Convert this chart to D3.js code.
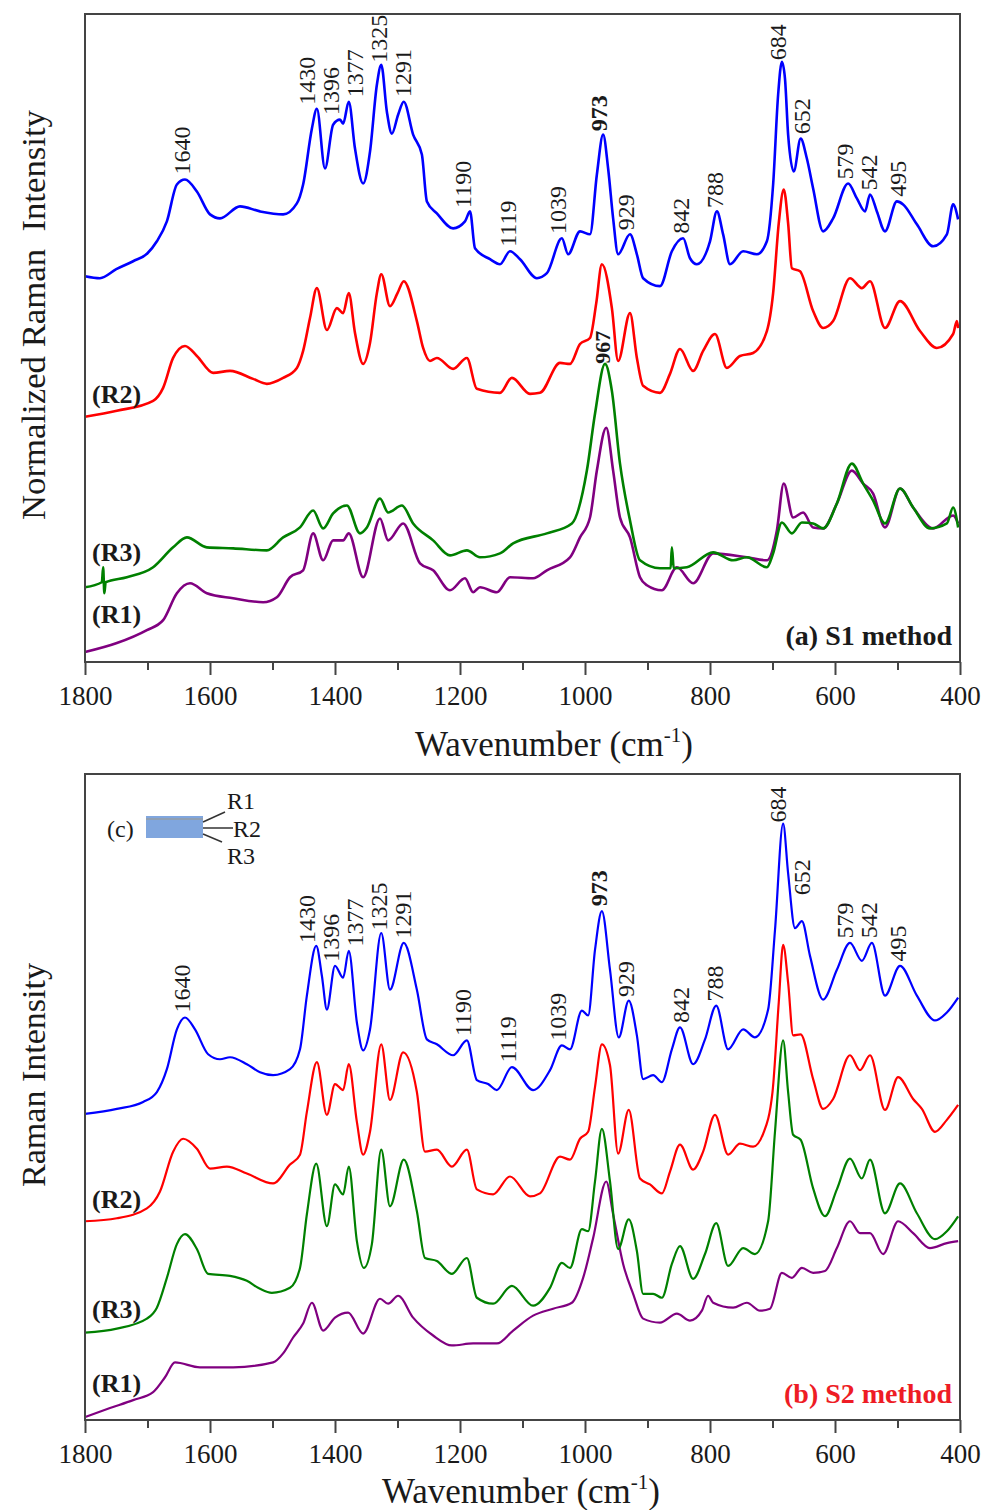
<!DOCTYPE html>
<html>
<head>
<meta charset="utf-8">
<script src="https://cdn.jsdelivr.net/npm/d3@7"></script>
<style>
  body { margin: 0; background: #fff; }
  text { font-family: "Liberation Serif", "Times New Roman", serif; fill: #1a1a1a; }
</style>
</head>
<body>
<svg id="chart"></svg>
<script>
// ---- data (wavenumber cm-1, intensity a.u.) ----
var majorTicks = [1800, 1600, 1400, 1200, 1000, 800, 600, 400];
var minorTicks = [1700, 1500, 1300, 1100, 900, 700, 500];
var peaks = [1640, 1430, 1396, 1377, 1325, 1291, 1190, 1119, 1039, 973, 929, 842, 788, 684, 652, 579, 542, 495];
var boldPeaks = [973];

// (a) S1 method
var s1Blue = [[1800,38.7],[1776,38.5],[1750,39.4],[1723,40.2],[1700,41.0],[1685,42.2],[1669,44.2],[1653,47.9],[1640,48.4],[1621,47.2],[1600,44.9],[1584,44.5],[1552,45.7],[1520,45.2],[1483,44.9],[1461,46.0],[1451,47.9],[1437,53.5],[1429,55.5],[1416,49.5],[1403,53.9],[1392,54.4],[1387,54.0],[1378,56.2],[1368,51.5],[1355,48.0],[1344,51.2],[1333,57.9],[1326,59.9],[1317,55.2],[1309,53.0],[1299,54.9],[1290,56.2],[1275,52.9],[1261,50.9],[1253,46.2],[1237,45.0],[1211,43.5],[1192,44.2],[1184,45.2],[1176,41.5],[1152,40.4],[1136,39.9],[1120,41.2],[1104,40.4],[1077,38.5],[1061,39.0],[1037,42.5],[1027,40.9],[1008,43.2],[992,42.9],[981,48.9],[971,52.9],[963,49.5],[955,44.5],[947,40.9],[928,42.9],[917,40.9],[907,38.5],[880,37.7],[861,41.2],[843,42.5],[832,40.5],[821,39.9],[800,42.2],[789,45.2],[779,42.9],[768,39.9],[747,41.2],[725,40.9],[709,42.2],[699,47.9],[691,56.9],[685,60.2],[680,58.5],[675,52.9],[666,49.2],[655,52.5],[645,50.5],[635,47.5],[619,43.2],[603,44.5],[579,48.0],[565,46.5],[552,45.2],[544,46.9],[533,45.2],[520,43.2],[501,46.2],[491,45.9],[469,43.9],[443,41.7],[421,42.9],[411,45.9],[403,44.4]];
var s1Red = [[1800,24.6],[1749,25.2],[1691,26.2],[1675,27.5],[1659,30.5],[1640,31.7],[1621,30.7],[1595,29.0],[1568,29.2],[1531,28.4],[1509,27.9],[1483,28.5],[1461,29.5],[1451,31.2],[1440,34.5],[1429,37.5],[1413,33.3],[1397,35.5],[1387,35.0],[1378,37.0],[1368,33.0],[1355,29.9],[1344,32.0],[1333,37.0],[1326,38.9],[1312,35.7],[1300,37.0],[1290,38.2],[1269,34.2],[1259,31.5],[1248,30.2],[1237,30.5],[1211,29.4],[1189,30.5],[1173,27.4],[1136,27.0],[1117,28.5],[1088,26.9],[1072,27.0],[1040,30.0],[1024,29.9],[1008,31.9],[992,32.5],[982,36.0],[973,39.9],[957,35.5],[947,30.2],[928,35.0],[917,30.5],[907,27.7],[880,27.0],[864,28.9],[848,31.4],[827,29.2],[811,31.2],[792,32.9],[773,29.5],[752,30.7],[731,31.0],[709,33.2],[699,37.0],[690,44.0],[682,47.4],[675,44.0],[669,39.5],[656,39.2],[635,35.2],[619,33.5],[603,34.2],[576,38.5],[557,37.5],[544,38.2],[520,33.5],[496,36.2],[464,33.2],[437,31.5],[411,32.9],[405,34.2],[403,33.5]];
var s1Green = [[1800,7.5],[1773,8.0],[1771,9.5],[1769,6.9],[1767,8.0],[1733,8.5],[1691,9.5],[1659,11.5],[1637,12.5],[1605,11.5],[1563,11.4],[1509,11.2],[1483,12.5],[1456,13.5],[1435,15.2],[1419,13.4],[1403,14.9],[1381,15.7],[1360,12.9],[1349,13.5],[1328,16.4],[1315,15.0],[1293,15.7],[1275,13.9],[1243,12.2],[1216,10.7],[1189,11.2],[1168,10.5],[1136,10.9],[1115,11.9],[1061,12.9],[1021,13.9],[997,19.2],[984,24.9],[968,29.9],[957,27.2],[944,19.9],[928,14.2],[912,10.2],[880,9.4],[863,9.4],[861,11.5],[858,9.4],[837,9.5],[795,11.0],[763,10.2],[741,10.5],[709,9.5],[699,10.9],[685,14.0],[669,12.9],[653,14.0],[635,13.9],[619,13.4],[597,15.9],[573,19.9],[555,17.9],[539,16.2],[520,13.9],[496,17.4],[475,15.5],[448,13.4],[421,13.9],[411,15.5],[403,13.5]];
var s1Purple = [[1800,1.0],[1749,1.9],[1701,3.2],[1675,4.2],[1653,6.9],[1632,7.9],[1605,6.9],[1563,6.4],[1515,6.0],[1493,6.5],[1472,8.5],[1451,9.2],[1435,12.9],[1419,10.2],[1403,12.2],[1387,12.2],[1378,12.9],[1355,8.5],[1328,14.4],[1315,12.2],[1291,13.9],[1264,9.9],[1243,9.2],[1216,7.2],[1192,8.4],[1179,7.0],[1168,7.5],[1141,7.0],[1120,8.5],[1083,8.4],[1061,9.2],[1024,10.5],[1008,12.5],[992,14.5],[981,19.2],[966,23.5],[955,19.2],[944,14.5],[928,12.5],[912,8.5],[901,7.7],[877,7.2],[853,9.5],[827,7.9],[795,10.9],[741,10.5],[709,10.2],[693,13.2],[682,17.9],[667,14.5],[651,15.0],[635,13.5],[619,13.4],[597,15.9],[573,19.2],[555,17.9],[539,16.9],[520,13.5],[496,17.4],[475,15.5],[443,13.4],[411,14.7],[403,13.9]];

// (b) S2 method
var s2Blue = [[1800,30.8],[1749,31.3],[1707,32.0],[1685,33.0],[1669,35.3],[1653,39.3],[1640,40.5],[1624,39.3],[1603,36.8],[1584,36.3],[1568,36.5],[1541,35.8],[1520,35.0],[1499,34.7],[1472,35.3],[1456,37.3],[1445,42.7],[1430,47.7],[1421,44.7],[1413,41.3],[1400,45.7],[1387,44.5],[1378,47.2],[1365,40.0],[1355,37.2],[1344,39.3],[1326,49.0],[1312,43.3],[1290,48.0],[1269,43.3],[1253,38.3],[1237,37.8],[1211,36.7],[1189,38.2],[1173,34.2],[1155,33.8],[1141,33.2],[1117,35.5],[1083,33.2],[1056,35.2],[1037,37.7],[1024,37.3],[1005,41.2],[995,40.7],[984,47.3],[973,51.2],[960,45.3],[946,38.5],[930,42.2],[917,38.7],[907,34.3],[891,34.7],[877,34.0],[861,37.3],[848,39.5],[827,35.8],[808,38.3],[790,41.7],[771,37.3],[747,39.3],[728,38.5],[707,41.3],[696,49.3],[683,60.0],[675,55.0],[664,49.5],[653,50.2],[640,46.7],[619,42.3],[597,45.3],[576,48.0],[557,46.2],[541,48.0],[520,42.7],[496,45.7],[469,42.7],[440,40.2],[421,41.0],[403,42.5]];
var s2Red = [[1800,20.0],[1749,20.3],[1701,21.3],[1680,23.0],[1659,27.0],[1643,28.3],[1621,27.3],[1600,25.3],[1573,25.5],[1541,24.8],[1499,23.8],[1472,25.7],[1456,26.7],[1445,31.0],[1429,36.0],[1413,30.7],[1400,33.8],[1387,33.2],[1378,35.8],[1365,30.0],[1355,26.7],[1344,29.0],[1326,37.8],[1312,32.2],[1291,37.0],[1269,33.0],[1256,27.0],[1237,27.2],[1213,25.5],[1189,27.2],[1173,23.2],[1147,22.7],[1120,24.5],[1088,22.5],[1072,22.8],[1040,26.5],[1024,26.2],[1008,28.3],[995,29.0],[984,33.5],[973,37.8],[960,35.7],[947,26.8],[930,31.2],[912,24.3],[896,23.7],[877,22.8],[864,25.0],[848,27.7],[827,25.2],[811,27.0],[792,30.7],[771,26.7],[752,27.8],[731,27.5],[715,28.8],[700,33.0],[690,42.0],[683,47.8],[675,44.0],[667,38.7],[655,38.8],[635,34.3],[619,31.3],[603,32.3],[576,36.7],[560,35.2],[544,36.7],[520,31.2],[499,34.5],[475,32.3],[461,31.3],[440,29.0],[421,30.2],[403,31.7]];
var s2Green = [[1800,8.8],[1749,9.2],[1701,10.2],[1685,11.3],[1669,14.3],[1653,17.7],[1640,18.7],[1621,17.2],[1603,14.7],[1568,14.5],[1541,14.0],[1520,13.2],[1501,12.8],[1472,13.3],[1456,15.3],[1445,20.7],[1430,25.8],[1413,19.5],[1400,23.7],[1387,22.7],[1378,25.5],[1365,18.0],[1354,15.3],[1341,17.7],[1326,27.2],[1312,21.5],[1290,26.2],[1269,21.0],[1256,16.3],[1237,16.0],[1213,14.7],[1189,16.3],[1173,12.3],[1147,11.7],[1117,13.5],[1083,11.5],[1056,13.3],[1037,15.8],[1024,15.3],[1005,19.2],[995,19.0],[984,24.0],[973,29.3],[960,24.0],[947,17.2],[930,20.2],[917,17.0],[907,12.7],[891,12.7],[877,12.3],[861,15.7],[848,17.5],[827,14.2],[808,16.7],[790,19.8],[771,15.5],[747,17.3],[728,16.7],[707,20.0],[696,29.0],[683,38.2],[675,33.0],[667,28.7],[655,28.2],[635,23.3],[616,20.5],[597,23.2],[576,26.3],[557,24.3],[544,26.2],[520,20.8],[496,23.8],[469,20.8],[440,18.2],[421,19.0],[403,20.5]];
var s2Purple = [[1800,0.3],[1760,1.2],[1723,2.0],[1691,2.8],[1672,4.3],[1656,5.8],[1616,5.3],[1563,5.3],[1499,5.8],[1483,6.7],[1467,8.3],[1451,9.7],[1437,11.8],[1419,9.0],[1400,10.3],[1379,10.8],[1355,8.7],[1328,12.2],[1315,11.7],[1299,12.5],[1275,10.3],[1243,8.5],[1213,7.5],[1179,7.7],[1141,7.7],[1115,9.0],[1083,10.5],[1051,11.2],[1021,11.8],[1003,14.3],[987,18.3],[966,24.0],[955,20.7],[939,15.7],[923,12.7],[907,10.2],[880,9.8],[853,10.7],[832,10.0],[813,11.0],[803,12.5],[795,11.8],[763,11.3],[741,11.8],[720,11.0],[704,11.2],[685,14.8],[669,14.3],[653,15.3],[635,14.8],[616,15.0],[597,17.3],[576,20.0],[560,18.8],[544,18.8],[523,16.7],[499,20.0],[475,18.8],[448,17.3],[421,17.8],[403,18.0]];

var colors = {blue: "#0000ff", red: "#ff0000", green: "#008000", purple: "#800080"};

var width = 983, height = 1510;
var plotLeft = 85, plotRight = 960;

var svg = d3.select("#chart")
    .attr("width", width)
    .attr("height", height);

var x = d3.scaleLinear()
    .domain([1800, 400])
    .range([plotLeft, plotRight]);

// linear lookup on a traced series, used to sit peak labels above the curve
function valueAt(series, w) {
  for (var i = 0; i < series.length - 1; i++) {
    var a = series[i], b = series[i + 1];
    if (w <= a[0] && w >= b[0]) {
      var t = (a[0] - w) / (a[0] - b[0]);
      return a[1] + t * (b[1] - a[1]);
    }
  }
  return series[series.length - 1][1];
}

function spread(pos, gap) {
  pos = pos.slice();
  for (var k = 0; k < 200; k++) {
    for (var i = 1; i < pos.length; i++) {
      var d = pos[i] - pos[i - 1];
      if (d < gap) { var m = (gap - d) / 2; pos[i - 1] -= m; pos[i] += m; }
    }
  }
  return pos;
}

function drawPanel(cfg) {
  var y = d3.scaleLinear()
      .domain([0, 65])
      .range([cfg.bottom, cfg.top]);

  var g = svg.append("g");

  var line = d3.line()
      .curve(d3.curveMonotoneX)
      .x(d => x(d[0]))
      .y(d => y(d[1]));

  // curves
  g.selectAll(".curve")
      .data(cfg.series)
    .enter().append("path")
      .attr("class", "curve")
      .attr("d", d => line(d.data))
      .attr("fill", "none")
      .attr("stroke", d => colors[d.color])
      .attr("stroke-width", cfg.lineWidth)
      .attr("stroke-linejoin", "round");

  // peak labels above the top (blue) curve
  var top = cfg.series.find(d => d.color === "blue").data;
  var px = peaks.map(p => x(p));
  var lx = spread(px, 24);
  peaks.forEach(function(p, i) {
    var cx = lx[i] - 3;
    var lo = Math.min(cx - 10, px[i] - 3), hi = Math.max(cx + 10, px[i] + 3);
    var vmax = 0;
    for (var q = lo; q <= hi; q++) vmax = Math.max(vmax, valueAt(top, x.invert(q)));
    var ly = y(vmax) - 5;
    g.append("text")
        .attr("transform", `translate(${cx},${ly}) rotate(-90)`)
        .attr("dominant-baseline", "central")
        .attr("font-size", 24)
        .attr("font-weight", boldPeaks.indexOf(p) >= 0 ? "bold" : null)
        .text(p);
  });

  if (cfg.extraPeak) {
    var ep = cfg.extraPeak, epx = x(ep.at) - 3;
    var ev = 0;
    for (var q = epx - 10; q <= epx + 10; q++) ev = Math.max(ev, valueAt(ep.data, x.invert(q)));
    g.append("text")
        .attr("transform", `translate(${epx},${y(ev) - 2}) rotate(-90)`)
        .attr("dominant-baseline", "central")
        .attr("font-size", 22)
        .attr("font-weight", "bold")
        .text(ep.at);
  }

  // frame
  g.append("rect")
      .attr("x", plotLeft)
      .attr("y", cfg.top)
      .attr("width", plotRight - plotLeft)
      .attr("height", cfg.bottom - cfg.top)
      .attr("fill", "none")
      .attr("stroke", "#444")
      .attr("stroke-width", 2);

  // x axis: minor then major ticks
  var minor = g.append("g")
      .attr("transform", `translate(0,${cfg.bottom})`)
      .call(d3.axisBottom(x).tickValues(minorTicks).tickSize(8).tickFormat(""));
  var major = g.append("g")
      .attr("transform", `translate(0,${cfg.bottom})`)
      .call(d3.axisBottom(x).tickValues(majorTicks).tickSize(13).tickPadding(11).tickFormat(d3.format("d")));
  [minor, major].forEach(function(ax) {
    ax.select(".domain").remove();
    ax.selectAll(".tick line").attr("stroke", "#444").attr("stroke-width", 2);
    ax.selectAll(".tick text")
        .attr("font-family", "Liberation Serif")
        .attr("font-size", 27)
        .attr("fill", "#1a1a1a");
  });

  // axis titles
  var xt = g.append("text")
      .attr("x", cfg.xTitleX)
      .attr("y", cfg.xTitleY)
      .attr("text-anchor", "middle")
      .attr("font-size", 35);
  xt.append("tspan").text("Wavenumber (cm");
  xt.append("tspan").attr("font-size", 21).attr("dy", -14).text("-1");
  xt.append("tspan").attr("dy", 14).text(")");

  g.append("text")
      .attr("transform", `translate(45,${cfg.yTitleY}) rotate(-90)`)
      .attr("text-anchor", "middle")
      .attr("font-size", 33)
      .attr("textLength", cfg.yTitleLen)
      .attr("lengthAdjust", "spacingAndGlyphs")
      .text(cfg.yTitle);

  // series tags
  cfg.tags.forEach(function(t) {
    g.append("text")
        .attr("x", 92)
        .attr("y", t.y)
        .attr("font-size", 26)
        .attr("font-weight", "bold")
        .text(t.text);
  });

  g.append("text")
      .attr("x", 952)
      .attr("y", cfg.bottom - 17)
      .attr("text-anchor", "end")
      .attr("font-size", 28)
      .attr("font-weight", "bold")
      .style("fill", cfg.methodColor)
      .text(cfg.method);

  return g;
}

drawPanel({
  top: 14, bottom: 662, lineWidth: 2.6,
  series: [
    {color: "purple", data: s1Purple},
    {color: "green", data: s1Green},
    {color: "red", data: s1Red},
    {color: "blue", data: s1Blue}
  ],
  extraPeak: {at: 967, data: s1Green},
  xTitleX: 554, xTitleY: 756,
  yTitle: "Normalized Raman\u00a0 Intensity", yTitleY: 315, yTitleLen: 410,
  tags: [{text: "(R2)", y: 403}, {text: "(R3)", y: 561}, {text: "(R1)", y: 623}],
  method: "(a) S1 method", methodColor: "#1a1a1a"
});

var panelB = drawPanel({
  top: 774, bottom: 1420, lineWidth: 2.2,
  series: [
    {color: "purple", data: s2Purple},
    {color: "green", data: s2Green},
    {color: "red", data: s2Red},
    {color: "blue", data: s2Blue}
  ],
  xTitleX: 521, xTitleY: 1503,
  yTitle: "Raman Intensity", yTitleY: 1075, yTitleLen: 224,
  tags: [{text: "(R2)", y: 1208}, {text: "(R3)", y: 1318}, {text: "(R1)", y: 1392}],
  method: "(b) S2 method", methodColor: "#ee1c25"
});

// inset (c): sample sketch with the three reading positions
var inset = panelB.append("g");
inset.append("text").attr("x", 107).attr("y", 837).attr("font-size", 24).text("(c)");
inset.append("rect")
    .attr("x", 146).attr("y", 816).attr("width", 57).attr("height", 22)
    .attr("fill", "#80a6de");
inset.append("line")
    .attr("x1", 146).attr("x2", 203).attr("y1", 819).attr("y2", 819)
    .attr("stroke", "#8f9fb3").attr("stroke-width", 2);
var insetTags = [
  {text: "R1", x1: 203, y1: 822, x2: 225, y2: 812, tx: 227, ty: 809},
  {text: "R2", x1: 203, y1: 828, x2: 233, y2: 828, tx: 233, ty: 837},
  {text: "R3", x1: 203, y1: 834, x2: 222, y2: 842, tx: 227, ty: 864}
];
insetTags.forEach(function(t) {
  inset.append("line")
      .attr("x1", t.x1).attr("y1", t.y1).attr("x2", t.x2).attr("y2", t.y2)
      .attr("stroke", "#333").attr("stroke-width", 1.5);
  inset.append("text").attr("x", t.tx).attr("y", t.ty).attr("font-size", 24).text(t.text);
});
</script>
</body>
</html>
